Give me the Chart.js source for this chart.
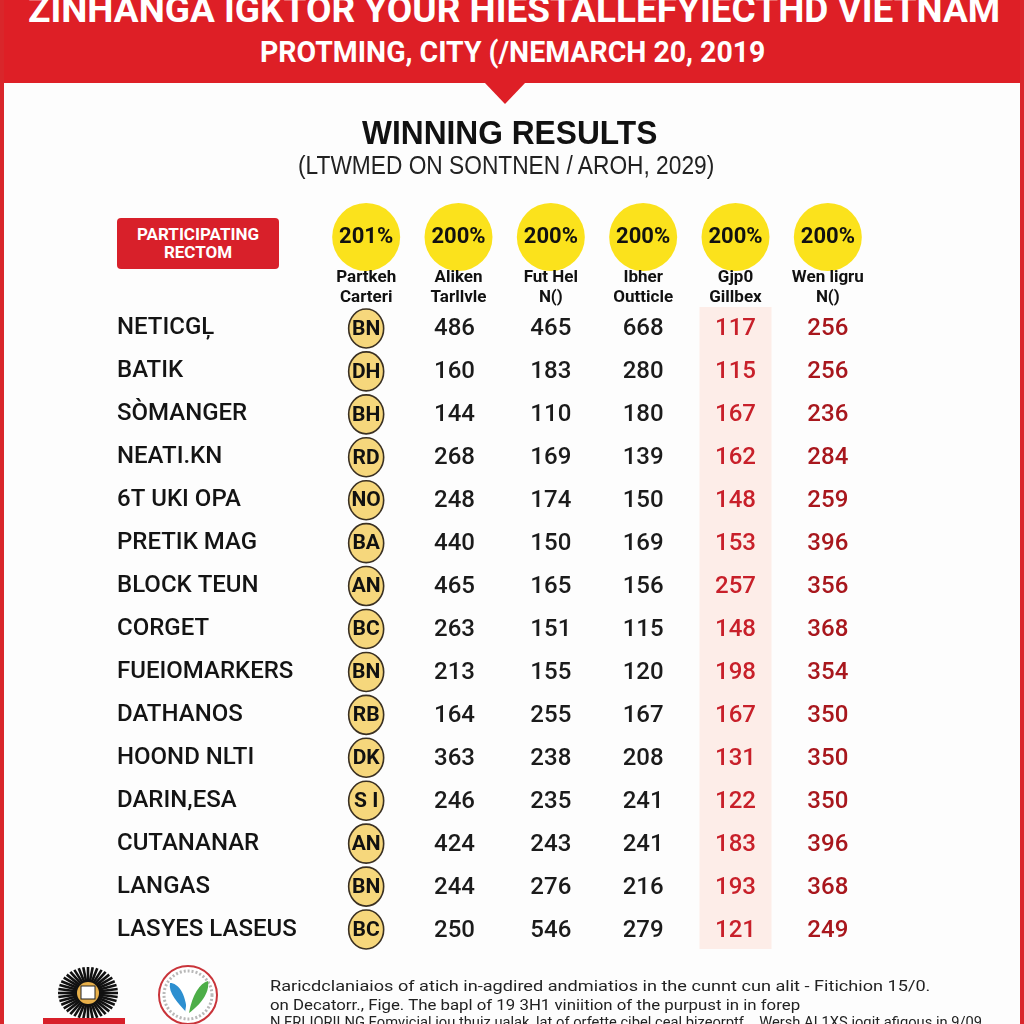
<!DOCTYPE html>
<html lang="en">
<head>
    <meta charset="UTF-8">
    <title>Winning Results</title>
    <script src="https://cdn.jsdelivr.net/npm/chart.js"></script>
    <style>
        body {
            margin: 0;
            padding: 0;
            background: #fff;
            font-family: Roboto, "Liberation Sans", Arial, sans-serif;
        }
        #page {
            position: relative;
            width: 1024px;
            height: 1024px;
            overflow: hidden;
            background: #fdfdfd;
        }
        #resultsChart {
            position: absolute;
            left: 0;
            top: 0;
        }
        .frame {
            position: absolute;
            top: 0;
            bottom: 0;
            width: 4px;
            background: #d9262b;
        }
        .banner {
            position: absolute;
            left: 0;
            top: 0;
            width: 1024px;
            height: 83px;
            background: #de1f26;
        }
        .arrow {
            position: absolute;
            left: 484px;
            top: 82px;
            width: 0;
            height: 0;
            border-left: 21px solid transparent;
            border-right: 21px solid transparent;
            border-top: 22px solid #de1f26;
        }
        .line {
            position: absolute;
            white-space: nowrap;
            transform-origin: 0 0;
        }
        .t1 { color: #fff; font-weight: 700; font-size: 36px; top: -11px; }
        .t2 { color: #fff; font-weight: 700; font-size: 29px; top: 35px; }
        .h1 { color: #111; font-weight: 700; font-size: 33px; top: 114px; font-family: "Liberation Sans", Arial, sans-serif; }
        .h2 { color: #222; font-weight: 400; font-size: 26px; top: 150px; font-family: "Liberation Sans", Arial, sans-serif; }
        .tag {
            position: absolute;
            left: 117px;
            top: 218px;
            width: 162px;
            height: 51px;
            background: #d8202a;
            border-radius: 4px;
            color: #fff;
            font-weight: 700;
            font-size: 17px;
            line-height: 18px;
            text-align: center;
            padding-top: 7px;
            box-sizing: border-box;
        }
        .note {
            color: #222;
            font-size: 15px;
            left: 270px;
        }
    </style>
</head>
<body>
<div id="page">
    <canvas id="resultsChart" width="1024" height="1024"></canvas>

    <div class="banner"></div>
    <div class="arrow"></div>
    <div class="frame" style="left:0"></div>
    <div class="frame" style="right:0"></div>

    <div class="line t1" data-x="28" data-w="972">ZINHANGA IGKTOR YOUR HIESTALLEFYIECTHD VIETNAM</div>
    <div class="line t2" data-x="260" data-w="505">PROTMING, CITY (/NEMARCH 20, 2019</div>
    <div class="line h1" data-x="362" data-w="295">WINNING RESULTS</div>
    <div class="line h2" data-x="298" data-w="416">(LTWMED ON SONTNEN / AROH, 2029)</div>

    <div class="tag">PARTICIPATING<br>RECTOM</div>

    <!-- footer logos -->
    <svg id="sun" style="position:absolute;left:48px;top:962px" width="80" height="62"></svg>
    <div style="position:absolute;left:43px;top:1018px;width:82px;height:8px;background:#d8202a"></div>
    <svg style="position:absolute;left:156px;top:963px" width="64" height="64">
        <circle cx="32" cy="32" r="29" fill="#fff" stroke="#c9343a" stroke-width="2"/>
        <circle cx="32" cy="32" r="24" fill="none" stroke="#b9b9b9" stroke-width="3" stroke-dasharray="2 2"/>
        <path d="M31 50 C22 40 12 30 14 20 C22 20 30 30 31 50 Z" fill="#2d8fd0"/>
        <path d="M33 50 C36 32 44 20 52 18 C54 30 44 42 33 50 Z" fill="#4dae48"/>
        <path d="M30 52 C30 44 33 38 32 30" stroke="#fff" stroke-width="2" fill="none"/>
    </svg>

    <div class="line note" style="top:977px" data-x="270" data-w="660">Raricdclaniaios of atich in-agdired andmiatios in the cunnt cun alit - Fitichion 15/0.</div>
    <div class="line note" style="top:996px" data-x="270" data-w="530">on Decatorr., Fige. The bapl of 19 3H1 viniition of the purpust in in forep</div>
    <div class="line note" style="top:1013px" data-x="270" data-w="712">N FRIJORILNG Eomvicial iou thuiz ualak, lat of orfette cibel ceal bizeorptf... Wersh AL1XS ioqit afiqous in 9/09</div>
</div>

<script>
    // row labels
    const names = ['NETICGĻ', 'BATIK', 'SÒMANGER', 'NEATI.KN', '6T UKI OPA', 'PRETIK MAG', 'BLOCK TEUN', 'CORGET',
        'FUEIOMARKERS', 'DATHANOS', 'HOOND NLTI', 'DARIN,ESA', 'CUTANANAR', 'LANGAS', 'LASYES LASEUS'];
    const badges = ['BN', 'DH', 'BH', 'RD', 'NO', 'BA', 'AN', 'BC', 'BN', 'RB', 'DK', 'S I', 'AN', 'BN', 'BC'];

    // columns
    const columns = ['badge', 'c1', 'c2', 'c3', 'c4', 'c5'];
    const headerPct = ['201%', '200%', '200%', '200%', '200%', '200%'];
    const headerLabels = [['Partkeh', 'Carteri'], ['Aliken', 'Tarllvle'], ['Fut Hel', 'N()'],
        ['Ibher', 'Outticle'], ['Gjp0', 'Gillbex'], ['Wen ligru', 'N()']];

    // series values
    const col1 = [486, 160, 144, 268, 248, 440, 465, 263, 213, 164, 363, 246, 424, 244, 250];
    const col2 = [465, 183, 110, 169, 174, 150, 165, 151, 155, 255, 238, 235, 243, 276, 546];
    const col3 = [668, 280, 180, 139, 150, 169, 156, 115, 120, 167, 208, 241, 241, 216, 279];
    const col4 = [117, 115, 167, 162, 148, 153, 257, 148, 198, 167, 131, 122, 183, 193, 121];
    const col5 = [256, 256, 236, 284, 259, 396, 356, 368, 354, 350, 350, 350, 396, 368, 249];

    const valueCols = [col1, col2, col3, col4, col5];
    const valueColors = ['#1b1b1b', '#1b1b1b', '#1b1b1b', '#c8202a', '#a8171d'];

    // category scales look labels up by string
    function cellsFor(colIndex, values) {
        return values.map((v, i) => ({ x: columns[colIndex], y: names[i], v: String(v) }));
    }

    const datasets = [{ kind: 'badge', data: cellsFor(0, badges), color: '#111' }];
    valueCols.forEach((vals, i) => {
        datasets.push({ kind: 'value', data: cellsFor(i + 1, vals), color: valueColors[i] });
    });

    const tablePlugin = {
        id: 'tablePlugin',
        beforeDatasetsDraw(chart) {
            const { ctx, chartArea, scales: { x } } = chart;
            // highlighted column
            const bx = x.getPixelForValue(4);
            ctx.save();
            ctx.fillStyle = '#fdede8';
            ctx.fillRect(bx - 36, chartArea.top, 72, chartArea.bottom - chartArea.top - 2);

            // header circles and labels
            headerPct.forEach((p, i) => {
                const px = x.getPixelForValue(i);
                ctx.beginPath();
                ctx.arc(px, chartArea.top - 70, 34, 0, Math.PI * 2);
                ctx.fillStyle = '#fbe21c';
                ctx.fill();
                ctx.fillStyle = '#111';
                ctx.font = '700 22px Roboto';
                ctx.textAlign = 'center';
                ctx.textBaseline = 'middle';
                ctx.fillText(p, px, chartArea.top - 70);
                ctx.font = '700 17px Roboto';
                ctx.fillText(headerLabels[i][0], px, chartArea.top - 29);
                ctx.fillText(headerLabels[i][1], px, chartArea.top - 9);
            });
            ctx.restore();
        },
        afterDatasetsDraw(chart) {
            const { ctx } = chart;
            ctx.save();
            ctx.textAlign = 'center';
            ctx.textBaseline = 'middle';
            chart.data.datasets.forEach((ds, di) => {
                const meta = chart.getDatasetMeta(di);
                meta.data.forEach((pt, i) => {
                    const text = ds.data[i].v;
                    if (ds.kind === 'badge') {
                        ctx.beginPath();
                        ctx.ellipse(pt.x, pt.y, 17.5, 19.5, 0, 0, Math.PI * 2);
                        ctx.fillStyle = '#f6d77c';
                        ctx.fill();
                        ctx.lineWidth = 1.6;
                        ctx.strokeStyle = '#3a3022';
                        ctx.stroke();
                        ctx.fillStyle = ds.color;
                        ctx.font = '700 21px Roboto';
                        ctx.fillText(text, pt.x, pt.y + 1);
                    } else {
                        ctx.fillStyle = ds.color;
                        ctx.font = '500 24px Roboto';
                        ctx.fillText(text, pt.x - (di === 1 ? 4 : 0), pt.y + 1);
                    }
                });
            });
            ctx.restore();
        }
    };

    new Chart(document.getElementById('resultsChart'), {
        type: 'scatter',
        data: { datasets: datasets },
        options: {
            responsive: false,
            animation: false,
            layout: { padding: { left: 117, top: 307, right: 150, bottom: 73 } },
            elements: { point: { radius: 0, hoverRadius: 0 } },
            plugins: { legend: { display: false }, tooltip: { enabled: false } },
            scales: {
                x: {
                    type: 'category',
                    labels: columns,
                    offset: true,
                    display: false
                },
                y: {
                    type: 'category',
                    labels: names,
                    offset: true,
                    grid: { display: false },
                    border: { display: false },
                    afterFit: (scale) => { scale.width = 203; },
                    ticks: {
                        crossAlign: 'far',
                        color: '#141414',
                        font: { family: 'Roboto', size: 24, weight: '500' }
                    }
                }
            }
        },
        plugins: [tablePlugin]
    });

    // sunburst logo rays
    const sun = document.getElementById('sun');
    let rays = '';
    for (let a = 0; a < 360; a += 9) {
        const r = a * Math.PI / 180;
        const x1 = 40 + Math.cos(r) * 10, y1 = 31 + Math.sin(r) * 10;
        const x2 = 40 + Math.cos(r) * 30, y2 = 31 + Math.sin(r) * 26;
        rays += `<line x1="${x1}" y1="${y1}" x2="${x2}" y2="${y2}" stroke="#111" stroke-width="2.6"/>`;
    }
    rays += '<circle cx="40" cy="31" r="11" fill="#e8b04a"/><rect x="33" y="24" width="14" height="13" fill="#fff" stroke="#222"/>';
    sun.innerHTML = rays;

    // stretch text lines to the widths in the layout
    document.querySelectorAll('.line').forEach(el => {
        const x = +el.dataset.x, w = +el.dataset.w;
        el.style.left = x + 'px';
        el.style.transform = 'scaleX(' + (w / el.scrollWidth) + ')';
    });
</script>
</body>
</html>
